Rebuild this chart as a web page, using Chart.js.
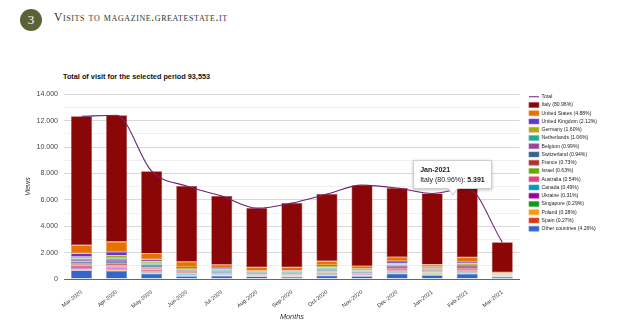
<!DOCTYPE html>
<html>
<head>
<meta charset="utf-8">
<title>Visits to magazine.greatestate.it</title>
<script src="https://cdn.jsdelivr.net/npm/chart.js@4.4.0/dist/chart.umd.min.js"></script>
<style>
  html, body { margin: 0; padding: 0; background: #fff; }
  body { width: 632px; height: 329px; position: relative; overflow: hidden; font-family: "Liberation Sans", Arial, sans-serif; }
  .badge { position: absolute; left: 20px; top: 9px; width: 22px; height: 22px; border-radius: 50%; background: #5d6138; color: #fff; font-family: "Liberation Serif", serif; font-size: 13px; line-height: 22px; text-align: center; }
  .heading { position: absolute; left: 54px; top: 11px; font-family: "Liberation Serif", serif; font-variant: small-caps; font-size: 11.6px; letter-spacing: 0.6px; color: #333; white-space: nowrap; }
  .subtitle { position: absolute; left: 63px; top: 72px; font-size: 7.3px; font-weight: bold; color: #111; white-space: nowrap; }
  #chartWrap { position: absolute; left: 0; top: 84px; width: 632px; height: 245px; }
  #chartTip { position: absolute; display: none; background: #fff; border: 1px solid #cfcfcf; box-shadow: 0 1px 3px rgba(0, 0, 0, 0.25); padding: 4px 6px 3px; font-size: 7px; line-height: 10px; color: #222; white-space: nowrap; }
  #chartTip .tip-title { font-weight: bold; }
  #chartTip::after { content: ""; position: absolute; left: 35px; bottom: -5px; width: 7px; height: 7px; background: #fff; border-right: 1px solid #cfcfcf; border-bottom: 1px solid #cfcfcf; transform: rotate(45deg) skew(10deg, 10deg); }
</style>
</head>
<body>
<div class="badge">3</div>
<div class="heading">Visits to magazine.greatestate.it</div>
<div class="subtitle">Total of visit for the selected period 93,553</div>
<div id="chartWrap">
  <canvas id="visitsChart" width="632" height="245"></canvas>
  <div id="chartTip"></div>
</div>
<script>
// Monthly visits by country, bottom of the stack first
const months = ["Mar-2020", "Apr-2020", "May-2020", "Jun-2020", "Jul-2020", "Aug-2020", "Sep-2020", "Oct-2020", "Nov-2020", "Dec-2020", "Jan-2021", "Feb-2021", "Mar-2021"]

const otherCountries = [650, 600, 400, 200, 220, 190, 160, 250, 200, 400, 280, 380, 150]
const spain = [40, 50, 30, 25, 20, 15, 15, 25, 20, 30, 25, 35, 10]
const poland = [50, 50, 30, 25, 20, 15, 15, 25, 20, 30, 25, 35, 10]
const singapore = [40, 50, 40, 30, 25, 20, 20, 40, 25, 40, 30, 50, 15]
const ukraine = [50, 60, 40, 25, 20, 15, 15, 30, 20, 60, 25, 40, 10]
const canada = [80, 80, 70, 50, 40, 30, 30, 60, 40, 60, 40, 70, 20]
const australia = [90, 80, 110, 60, 40, 30, 35, 60, 45, 70, 50, 60, 25]
const israel = [80, 70, 60, 50, 40, 30, 30, 70, 40, 60, 40, 80, 20]
const france = [110, 110, 90, 60, 50, 40, 40, 60, 50, 70, 55, 70, 25]
const switzerland = [130, 140, 110, 70, 60, 45, 45, 80, 55, 80, 60, 80, 30]
const belgium = [120, 150, 100, 70, 60, 45, 45, 70, 60, 110, 70, 80, 30]
const netherlands = [110, 140, 120, 80, 70, 50, 55, 110, 60, 80, 70, 90, 30]
const germany = [130, 200, 130, 90, 80, 55, 55, 100, 70, 90, 80, 100, 40]
const unitedKingdom = [260, 260, 150, 80, 60, 50, 80, 90, 70, 180, 80, 120, 30]
const unitedStates = [620, 780, 450, 400, 280, 250, 240, 280, 210, 300, 160, 350, 60]
const italy = [9770, 9580, 6240, 5725, 5195, 4490, 4870, 5080, 6125, 5230, 5391, 5250, 2285]

const totals = [12330, 12400, 8170, 7040, 6280, 5370, 5750, 6430, 7110, 6890, 6481, 6890, 2790]

const countryLabels = ["Other countries (4.26%)", "Spain (0.27%)", "Poland (0.28%)", "Singapore (0.29%)", "Ukraine (0.31%)", "Canada (0.49%)", "Australia (0.54%)", "Israel (0.63%)", "France (0.73%)", "Switzerland (0.94%)", "Belgium (0.99%)", "Netherlands (1.06%)", "Germany (1.60%)", "United Kingdom (2.12%)", "United States (4.88%)", "Italy (80.96%)"]
const countrySeries = [otherCountries, spain, poland, singapore, ukraine, canada, australia, israel, france, switzerland, belgium, netherlands, germany, unitedKingdom, unitedStates, italy]
const countryColors = ["#3366cc", "#dc3912", "#ff9900", "#109618", "#990099", "#0099c6", "#dd4477", "#66aa00", "#b82e2e", "#316395", "#994499", "#22aa99", "#aaaa11", "#6633cc", "#e67300", "#8b0707"]
const totalColor = "#6e2272"

const FONT = "'Liberation Sans', Arial, sans-serif"

// 12345 -> "12.345"
function formatNumber(n) {
  return String(n).replace(/\B(?=(\d{3})+(?!\d))/g, ".")
}

function tint(hex, amount) {
  const n = parseInt(hex.slice(1), 16)
  const mix = (c) => Math.round(c + (255 - c) * amount)
  return `rgb(${mix((n >> 16) & 255)}, ${mix((n >> 8) & 255)}, ${mix(n & 255)})`
}

// HTML tooltip so the value can be bold
function externalTooltip(context) {
  const { tooltip } = context
  const tip = document.getElementById("chartTip")
  if (tooltip.opacity === 0 || !tooltip.dataPoints || !tooltip.dataPoints.length) {
    tip.style.display = "none"
    return
  }
  const point = tooltip.dataPoints[0]
  tip.innerHTML = `<div class="tip-title">${tooltip.title[0]}</div><div>${point.dataset.label}: <b>${formatNumber(point.raw)}</b></div>`
  tip.style.display = "block"
  tip.style.left = tooltip.caretX - 19 + "px"
  tip.style.top = tooltip.caretY - 33 + "px"
}

// keep a little air between the plot and the legend
const legendNudge = {
  id: "legendNudge",
  afterLayout(chart) {
    chart.legend.left += 6
    chart.legend.right += 6
    chart.legend.top -= 3
    chart.legend.bottom -= 3
  },
}

function createVisitsChart() {
  const barDatasets = countrySeries.map((data, i) => ({
    type: "bar",
    label: countryLabels[i],
    data: data,
    backgroundColor: countryColors[i],
    borderColor: tint(countryColors[i], 0.25),
    borderWidth: 0.6,
    borderSkipped: false,
    barPercentage: 0.6,
    categoryPercentage: 1,
    pointStyle: "rect",
  }))

  const totalDataset = {
    type: "line",
    label: "Total",
    data: totals,
    stack: "total",
    order: -1,
    borderColor: totalColor,
    backgroundColor: totalColor,
    borderWidth: 1.1,
    cubicInterpolationMode: "monotone",
    pointRadius: 0,
    pointStyle: "line",
    fill: false,
  }

  const chart = new Chart(document.getElementById("visitsChart"), {
    data: {
      labels: months,
      datasets: [...barDatasets, totalDataset],
    },
    options: {
      responsive: false,
      animation: false,
      layout: { padding: { top: 10, left: 18, right: 31, bottom: 0 } },
      plugins: {
        legend: {
          position: "right",
          align: "start",
          labels: {
            usePointStyle: true,
            pointStyleWidth: 10,
            boxWidth: 10,
            boxHeight: 5,
            padding: 3.15,
            color: "#222",
            font: { family: FONT, size: 5.1 },
            sort: (a, b) => b.datasetIndex - a.datasetIndex,
          },
        },
        tooltip: { enabled: false, external: externalTooltip },
      },
      scales: {
        x: {
          stacked: true,
          grid: { display: false },
          border: { display: true, color: "#666" },
          ticks: {
            autoSkip: false,
            minRotation: 38,
            maxRotation: 38,
            padding: 2,
            color: "#333",
            font: { family: FONT, size: 5.6 },
          },
          title: {
            display: true,
            text: "Months",
            color: "#333",
            font: { family: FONT, size: 7.3, style: "italic" },
            padding: { top: 2, bottom: 8 },
          },
          afterFit(scale) { scale.height = 50 },
        },
        y: {
          stacked: true,
          min: 0,
          max: 14000,
          border: { display: false },
          grid: {
            drawTicks: false,
            color: (ctx) => {
              const v = ctx.tick ? ctx.tick.value : 1
              if (v === 0) return "#666"
              return v % 2000 === 0 ? "#d9d9d9" : "#f0f0f0"
            },
          },
          ticks: {
            stepSize: 1000,
            padding: 6,
            color: "#444",
            font: { family: FONT, size: 7 },
            callback: (v) => (v % 2000 === 0 ? formatNumber(v) : ""),
          },
          title: {
            display: true,
            text: "Views",
            color: "#333",
            font: { family: FONT, size: 7, style: "italic" },
            padding: { top: 6, bottom: 0 },
          },
          afterFit(scale) { scale.width = 46 },
        },
      },
    },
    plugins: [legendNudge],
  })

  // show the Italy figure for January 2021
  chart.tooltip.setActiveElements([{ datasetIndex: countrySeries.indexOf(italy), index: months.indexOf("Jan-2021") }], { x: 0, y: 0 })
  chart.draw()
}

document.addEventListener("DOMContentLoaded", createVisitsChart)
</script>
</body>
</html>
